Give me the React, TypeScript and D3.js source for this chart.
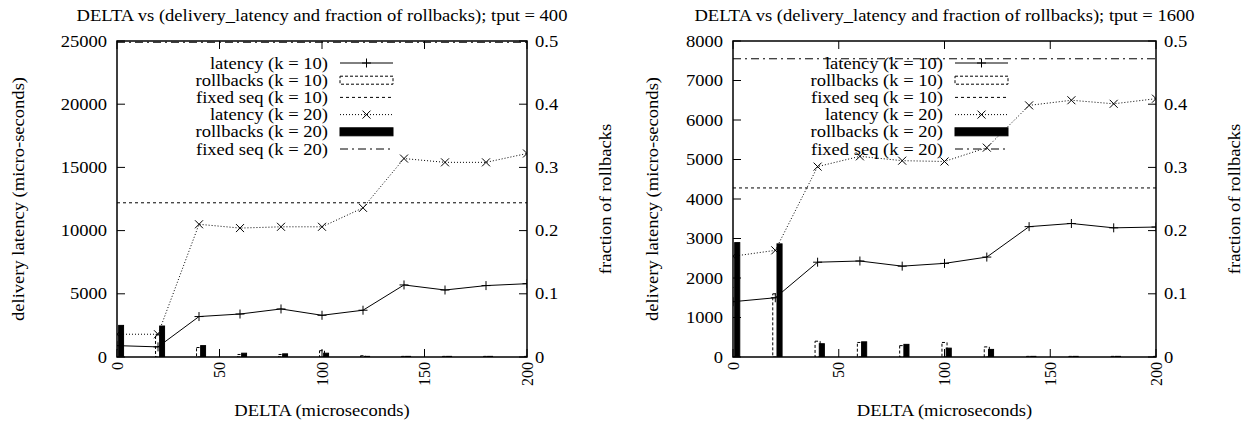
import React from "react";
import * as d3 from "d3";

const DELTA = [0, 20, 40, 60, 80, 100, 120, 140, 160, 180, 200];
const X_TICKS = [0, 50, 100, 150, 200];
const Y2_TICKS = [0, 0.1, 0.2, 0.3, 0.4, 0.5];

// tput = 400
const LAT_K10_400 = [900, 800, 3200, 3400, 3800, 3300, 3700, 5700, 5300, 5650, 5800];
const LAT_K20_400 = [1800, 1800, 10500, 10200, 10300, 10300, 11800, 15700, 15400, 15400, 16100];
const RB_K10_400 = [0.035, 0.035, 0.015, 0.004, 0.004, 0.01, 0.002, 0.001, 0.001, 0.001, 0.001];
const RB_K20_400 = [0.05, 0.049, 0.018, 0.006, 0.005, 0.006, 0.001, 0.001, 0.001, 0.001, 0];
const FIXED_K10_400 = 12200;
const FIXED_K20_400 = 24900;
const Y_TICKS_400 = [0, 5000, 10000, 15000, 20000, 25000];

// tput = 1600
const LAT_K10_1600 = [1400, 1500, 2400, 2430, 2300, 2370, 2530, 3300, 3380, 3270, 3290];
const LAT_K20_1600 = [2550, 2700, 4820, 5080, 4970, 4950, 5300, 6370, 6500, 6410, 6540];
const RB_K10_1600 = [0.11, 0.1, 0.025, 0.023, 0.018, 0.023, 0.016, 0.001, 0.001, 0.001, 0.001];
const RB_K20_1600 = [0.181, 0.179, 0.021, 0.024, 0.02, 0.014, 0.012, 0.001, 0.001, 0.001, 0.001];
const FIXED_K10_1600 = 4280;
const FIXED_K20_1600 = 7550;
const Y_TICKS_1600 = [0, 1000, 2000, 3000, 4000, 5000, 6000, 7000, 8000];

const LEGEND = [
  "latency (k = 10)",
  "rollbacks (k = 10)",
  "fixed seq (k = 10)",
  "latency (k = 20)",
  "rollbacks (k = 20)",
  "fixed seq (k = 20)",
];

const FONT = '"Liberation Serif", Tinos, "Times New Roman", Times, serif';
const FS = 16;
const SX = 1.16; // the original plot is stretched sideways
const TOP = 41;
const BOTTOM = 357;
const TICK = 8;

const PLUS = "M-4.5,0H4.5M0,-4.5V4.5";
const CROSS = "M-4,-4L4,4M-4,4L4,-4";

function T({ x, y, anchor = "start", rot = 0, sx = SX, children }: any) {
  const tf = `translate(${x},${y})` + (rot ? ` rotate(${rot})` : "") + ` scale(${sx},1)`;
  return (
    <text transform={tf} dy="0.35em" textAnchor={anchor} style={{ fontFamily: FONT, fontSize: FS }}>
      {children}
    </text>
  );
}

function Panel(props: any) {
  const { id, left, right, yMax, yTicks, title, lat10, lat20, rb10, rb20, fixed10, fixed20, ylabelX, legendX } = props;
  const x = d3.scaleLinear().domain([0, 200]).range([left, right]);
  const y = d3.scaleLinear().domain([0, yMax]).range([BOTTOM, TOP]);
  const y2 = d3.scaleLinear().domain([0, 0.5]).range([BOTTOM, TOP]);
  const line = d3
    .line<number>()
    .x((_, i) => x(DELTA[i]))
    .y((d) => y(d));
  const cx = (left + right) / 2;
  const cy = (TOP + BOTTOM) / 2;

  // gnuplot-style boxes: k=10 centred on x, k=20 shifted right by 2
  const bar = (xv: number, v: number, off: number) => {
    const x0 = x(xv + off - 1.2);
    const x1 = x(xv + off + 1.2);
    return { x: x0, y: y2(v), w: x1 - x0, h: BOTTOM - y2(v) };
  };

  const rowY = (i: number) => 63 + 17.2 * i;
  const sx0 = legendX + 12;
  const sx1 = legendX + 65;

  return (
    <g>
      <defs>
        <clipPath id={id}>
          <rect x={left} y={TOP} width={right - left} height={BOTTOM - TOP} />
        </clipPath>
      </defs>
      <T x={cx} y={15} anchor="middle">
        {title}
      </T>

      {yTicks.map((t: number) => (
        <g key={"y" + t}>
          <line x1={left} x2={left + TICK} y1={y(t)} y2={y(t)} stroke="#000" />
          <T x={left - 10} y={y(t)} anchor="end">
            {t}
          </T>
        </g>
      ))}
      {Y2_TICKS.map((t) => (
        <g key={"y2" + t}>
          <line x1={right - TICK} x2={right} y1={y2(t)} y2={y2(t)} stroke="#000" />
          <T x={right + 8} y={y2(t)}>
            {t}
          </T>
        </g>
      ))}
      {X_TICKS.map((t) => (
        <g key={"x" + t}>
          <line x1={x(t)} x2={x(t)} y1={BOTTOM} y2={BOTTOM - TICK} stroke="#000" />
          <line x1={x(t)} x2={x(t)} y1={TOP} y2={TOP + TICK} stroke="#000" />
          <T x={x(t)} y={BOTTOM + 5} rot={-90} sx={1} anchor="end">
            {t}
          </T>
        </g>
      ))}

      <T x={cx} y={410} anchor="middle">
        DELTA (microseconds)
      </T>
      <T x={ylabelX} y={cy} rot={-90} anchor="middle">
        delivery latency (micro-seconds)
      </T>
      <T x={right + 78} y={cy} rot={-90} anchor="middle">
        fraction of rollbacks
      </T>

      <g clipPath={`url(#${id})`} fill="none" stroke="#000" strokeWidth={1}>
        <path d={line(lat10) || ""} />
        {lat10.map((v: number, i: number) => (
          <path key={"p" + i} d={PLUS} transform={`translate(${x(DELTA[i])},${y(v)})`} />
        ))}
        {rb10.map((v: number, i: number) => {
          const b = bar(DELTA[i], v, 0);
          return <rect key={"b10" + i} x={b.x} y={b.y} width={b.w} height={b.h} strokeDasharray="3,2" />;
        })}
        <line x1={left} x2={right} y1={y(fixed10)} y2={y(fixed10)} strokeDasharray="3,3" />
        <path d={line(lat20) || ""} strokeDasharray="1,2" />
        {lat20.map((v: number, i: number) => (
          <path key={"c" + i} d={CROSS} transform={`translate(${x(DELTA[i])},${y(v)})`} />
        ))}
        {rb20.map((v: number, i: number) => {
          const b = bar(DELTA[i], v, 2);
          return <rect key={"b20" + i} x={b.x} y={b.y} width={b.w} height={b.h} fill="#000" />;
        })}
        <line x1={left} x2={right} y1={y(fixed20)} y2={y(fixed20)} strokeDasharray="8,4,2,4" />
      </g>

      {LEGEND.map((t, i) => (
        <T key={t} x={legendX} y={rowY(i)} anchor="end">
          {t}
        </T>
      ))}
      <g fill="none" stroke="#000">
        <line x1={sx0} x2={sx1} y1={rowY(0)} y2={rowY(0)} />
        <path d={PLUS} transform={`translate(${(sx0 + sx1) / 2},${rowY(0)})`} />
        <rect x={sx0} y={rowY(1) - 4} width={sx1 - sx0} height={8} strokeDasharray="3,2" />
        <line x1={sx0} x2={sx1} y1={rowY(2)} y2={rowY(2)} strokeDasharray="3,3" />
        <line x1={sx0} x2={sx1} y1={rowY(3)} y2={rowY(3)} strokeDasharray="1,2" />
        <path d={CROSS} transform={`translate(${(sx0 + sx1) / 2},${rowY(3)})`} />
        <rect x={sx0} y={rowY(4) - 4} width={sx1 - sx0} height={8} fill="#000" />
        <line x1={sx0} x2={sx1} y1={rowY(5)} y2={rowY(5)} strokeDasharray="8,4,2,4" />
      </g>

      <rect x={left} y={TOP} width={right - left} height={BOTTOM - TOP} fill="none" stroke="#000" strokeWidth={1.5} />
    </g>
  );
}

export default function App() {
  return (
    <svg width={1245} height={425} style={{ position: "absolute", left: 0, top: 0, background: "#fff" }}>
      <rect width={1245} height={425} fill="#fff" />
      <Panel
        id="clipA"
        left={117}
        right={527}
        yMax={25000}
        yTicks={Y_TICKS_400}
        title="DELTA vs (delivery_latency and fraction of rollbacks); tput = 400"
        lat10={LAT_K10_400}
        lat20={LAT_K20_400}
        rb10={RB_K10_400}
        rb20={RB_K20_400}
        fixed10={FIXED_K10_400}
        fixed20={FIXED_K20_400}
        ylabelX={18}
        legendX={328}
      />
      <Panel
        id="clipB"
        left={733}
        right={1156}
        yMax={8000}
        yTicks={Y_TICKS_1600}
        title="DELTA vs (delivery_latency and fraction of rollbacks); tput = 1600"
        lat10={LAT_K10_1600}
        lat20={LAT_K20_1600}
        rb10={RB_K10_1600}
        rb20={RB_K20_1600}
        fixed10={FIXED_K10_1600}
        fixed20={FIXED_K20_1600}
        ylabelX={652}
        legendX={943}
      />
    </svg>
  );
}
